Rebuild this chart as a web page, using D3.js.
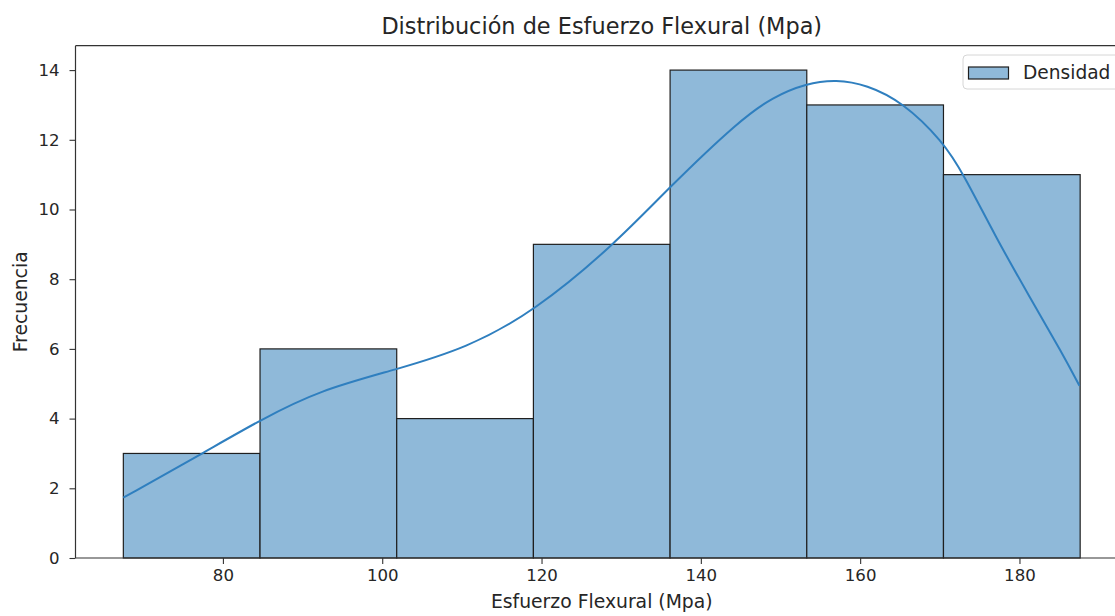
<!DOCTYPE html>
<html><head><meta charset="utf-8">
<script src="https://cdn.jsdelivr.net/npm/d3@7"></script>
<style>body{margin:0;background:#fff}svg{display:block}text{font-family:"DejaVu Sans",sans-serif;fill:#262626}</style>
</head><body><svg id="c" width="1115" height="616"></svg>
<script>
const binStart = 67.5;
const binWidth = 17.16;
const counts = [3, 6, 4, 9, 14, 13, 11];
const kdeX = [67.49,77.49,84.68,92.17,101.79,110.58,119.06,129.18,136.09,144.87,149.05,153.24,157.00,160.8,165.36,170.38,172.89,177.08,181.25,185.43,187.53];
const kdeY = [1.73,3.01,3.96,4.82,5.41,6.02,7.07,9.00,10.65,12.56,13.23,13.62,13.73,13.58,13.08,11.95,11.05,9.18,7.50,5.85,4.94];
const xTicks = [80,100,120,140,160,180];
const yTicks = [0,2,4,6,8,10,12,14];
const title = "Distribución de Esfuerzo Flexural (Mpa)";
const xLabel = "Esfuerzo Flexural (Mpa)";
const yLabel = "Frecuencia";
const legendLabel = "Densidad";

const svg = d3.select("#c");
const L = 75.5, R = 1128, T = 45.7, B = 558;
const binEnd = binStart + binWidth*counts.length;
const pad = (binEnd-binStart)*0.05;
const x = d3.scaleLinear().domain([binStart-pad, binEnd+pad]).range([L,R]);
const yMax = d3.max(counts)*1.05;
const y = d3.scaleLinear().domain([0,yMax]).range([B,T]);

const fill = "#8fb9d9", edge = "#1f1f1f", lineC = "#2f7fbf";

// bars
svg.append("g").selectAll("rect").data(counts).join("rect")
  .attr("x", (d,i)=>x(binStart+i*binWidth))
  .attr("width", (d,i)=>x(binStart+(i+1)*binWidth)-x(binStart+i*binWidth))
  .attr("y", d=>y(d)).attr("height", d=>B-y(d))
  .attr("fill", fill).attr("stroke", edge).attr("stroke-width", 1.2);

// kde
const pts = kdeX.map((v,i)=>[v,kdeY[i]]);
svg.append("path").datum(pts)
  .attr("d", d3.line().x(d=>x(d[0])).y(d=>y(d[1])).curve(d3.curveBasis))
  .attr("fill","none").attr("stroke", lineC).attr("stroke-width", 2);

// axes
const xa = svg.append("g").attr("transform",`translate(0,${B})`)
  .call(d3.axisBottom(x).tickValues(xTicks).tickSize(6).tickPadding(5).tickFormat(d3.format("d")));
const ya = svg.append("g").attr("transform",`translate(${L},0)`)
  .call(d3.axisLeft(y).tickValues(yTicks).tickSize(6).tickPadding(10).tickFormat(d3.format("d")));
[xa,ya].forEach(g=>{
  g.select(".domain").remove();
  g.selectAll("line").attr("stroke","#333").attr("stroke-width",1.1);
  g.selectAll("text").attr("font-size",16.6).attr("fill","#262626").style("font-family","DejaVu Sans");
});
// spines
svg.append("line").attr("x1",L).attr("x2",R).attr("y1",B).attr("y2",B).attr("stroke","#333").attr("stroke-width",1.2);
svg.append("line").attr("x1",L).attr("x2",R).attr("y1",T).attr("y2",T).attr("stroke","#333").attr("stroke-width",1.2);
svg.append("line").attr("x1",L).attr("x2",L).attr("y1",T).attr("y2",B).attr("stroke","#333").attr("stroke-width",1.2);

// labels
svg.append("text").attr("x",(L+R)/2).attr("y",34).attr("text-anchor","middle").attr("font-size",22.4).text(title);
svg.append("text").attr("x",(L+R)/2).attr("y",608).attr("text-anchor","middle").attr("font-size",18.8).text(xLabel);
svg.append("text").attr("transform",`translate(27,${(T+B)/2}) rotate(-90)`).attr("text-anchor","middle").attr("font-size",18.8).text(yLabel);

// legend
const lg = svg.append("g");
lg.append("rect").attr("x",963).attr("y",55).attr("width",200).attr("height",34).attr("rx",4)
  .attr("fill","rgba(255,255,255,0.8)").attr("stroke","#d6d6d6");
lg.append("rect").attr("x",968.5).attr("y",67).attr("width",40).attr("height",12)
  .attr("fill",fill).attr("stroke",edge).attr("stroke-width",1.2);
lg.append("text").attr("x",1023).attr("y",79).attr("font-size",18.6).text(legendLabel);
</script></body></html>
